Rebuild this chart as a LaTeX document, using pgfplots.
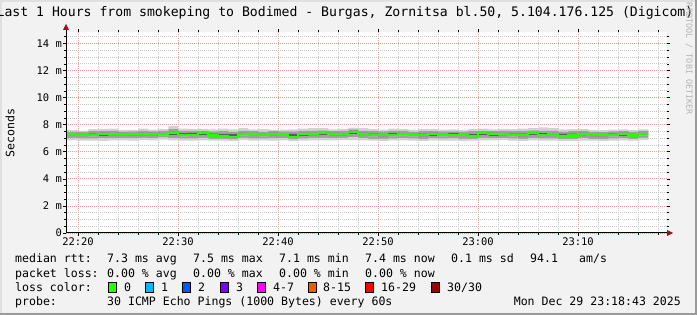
\documentclass[border=0pt]{standalone}
\usepackage{pgfplots}
\pgfplotsset{compat=1.18}
\usepackage{pgfplotstable}
\usepackage{fontspec}
\setmainfont{DejaVu Sans Mono}
\newfontfamily\mono{DejaVu Sans Mono}
\definecolor{bgc}{HTML}{F2F2F2}
\definecolor{shadeA}{HTML}{E0E0E0}
\definecolor{shadeB}{HTML}{9A9A9A}
\definecolor{gridred}{HTML}{E8A0A0}
\definecolor{gridgray}{HTML}{C8C8C8}
\definecolor{arrowred}{HTML}{A01010}
\definecolor{smokeA}{HTML}{D2D2D2}
\definecolor{smokeB}{HTML}{A0A0A0}
\definecolor{smokeC}{HTML}{5C5C5C}
\definecolor{medgreen}{HTML}{26FF00}
\definecolor{lc0}{HTML}{26FF00}
\definecolor{lc1}{HTML}{00B8FF}
\definecolor{lc2}{HTML}{0059FF}
\definecolor{lc3}{HTML}{7E00FF}
\definecolor{lc4}{HTML}{FF00FF}
\definecolor{lc5}{HTML}{FF5500}
\definecolor{lc6}{HTML}{FF0000}
\definecolor{lc7}{HTML}{A10000}
\definecolor{rrdgray}{HTML}{B4B4B4}

% x: minutes after 22:18:48; med: median rtt (ms); a*: spread below, b*: spread above (ms)
\pgfplotstableread{
x med a3 a2 a1 b1 b2 b3
0.07 7.27 0.42 0.28 0.10 0.10 0.22 0.35
1.23 7.27 0.45 0.30 0.12 0.08 0.20 0.30
2.23 7.22 0.40 0.25 0.08 0.14 0.30 0.45
3.23 7.29 0.48 0.30 0.12 0.10 0.25 0.40
4.23 7.34 0.50 0.35 0.14 0.08 0.22 0.38
5.23 7.29 0.45 0.28 0.10 0.10 0.20 0.32
6.23 7.32 0.50 0.32 0.12 0.06 0.18 0.30
7.23 7.29 0.42 0.26 0.10 0.12 0.28 0.42
8.23 7.29 0.45 0.30 0.10 0.10 0.22 0.34
9.23 7.29 0.40 0.25 0.08 0.12 0.25 0.38
10.23 7.39 0.55 0.38 0.15 0.10 0.28 0.50
11.23 7.22 0.40 0.25 0.08 0.15 0.32 0.50
12.23 7.25 0.42 0.28 0.10 0.14 0.30 0.45
13.23 7.39 0.55 0.36 0.16 0.06 0.18 0.30
14.23 7.20 0.38 0.24 0.08 0.16 0.30 0.45
15.23 7.17 0.35 0.22 0.08 0.18 0.35 0.55
16.23 7.10 0.30 0.20 0.06 0.20 0.38 0.55
17.23 7.34 0.48 0.32 0.12 0.08 0.22 0.40
18.23 7.27 0.45 0.30 0.10 0.10 0.25 0.38
19.23 7.22 0.38 0.25 0.08 0.12 0.26 0.45
20.23 7.32 0.50 0.32 0.12 0.08 0.20 0.32
21.23 7.27 0.42 0.28 0.10 0.10 0.24 0.36
22.23 7.10 0.32 0.20 0.06 0.22 0.40 0.55
23.23 7.32 0.50 0.34 0.14 0.08 0.22 0.40
24.23 7.32 0.48 0.30 0.12 0.10 0.25 0.42
25.23 7.39 0.55 0.36 0.14 0.06 0.20 0.35
26.23 7.29 0.45 0.30 0.10 0.10 0.24 0.36
27.23 7.29 0.42 0.26 0.10 0.12 0.26 0.40
28.23 7.49 0.62 0.42 0.18 0.06 0.16 0.30
29.23 7.27 0.42 0.28 0.10 0.12 0.30 0.48
30.23 7.22 0.40 0.26 0.08 0.14 0.30 0.45
31.23 7.22 0.42 0.26 0.10 0.12 0.28 0.42
32.23 7.22 0.38 0.24 0.08 0.15 0.32 0.50
33.23 7.34 0.50 0.34 0.12 0.08 0.20 0.34
34.23 7.22 0.40 0.25 0.08 0.12 0.26 0.40
35.23 7.22 0.42 0.28 0.10 0.14 0.30 0.45
36.23 7.29 0.45 0.30 0.12 0.10 0.24 0.38
37.23 7.22 0.40 0.25 0.08 0.12 0.28 0.42
38.23 7.25 0.42 0.26 0.10 0.12 0.26 0.40
39.23 7.25 0.45 0.30 0.10 0.10 0.24 0.36
40.23 7.17 0.35 0.22 0.08 0.18 0.36 0.52
41.23 7.39 0.55 0.36 0.16 0.06 0.18 0.32
42.23 7.29 0.45 0.30 0.12 0.10 0.24 0.36
43.23 7.29 0.42 0.28 0.10 0.12 0.26 0.40
44.23 7.22 0.40 0.25 0.08 0.14 0.30 0.46
45.23 7.22 0.42 0.26 0.10 0.14 0.32 0.50
46.23 7.39 0.55 0.38 0.14 0.06 0.20 0.35
47.23 7.25 0.42 0.28 0.10 0.12 0.30 0.55
48.23 7.27 0.45 0.30 0.12 0.10 0.28 0.48
49.23 7.15 0.35 0.22 0.06 0.18 0.34 0.50
50.23 7.20 0.40 0.25 0.08 0.16 0.32 0.48
51.23 7.32 0.50 0.32 0.12 0.08 0.22 0.36
52.23 7.22 0.40 0.26 0.10 0.12 0.26 0.40
53.23 7.22 0.42 0.28 0.10 0.12 0.24 0.38
54.23 7.22 0.40 0.25 0.08 0.14 0.28 0.42
55.23 7.29 0.45 0.30 0.12 0.10 0.24 0.36
56.23 7.20 0.38 0.24 0.08 0.14 0.28 0.40
57.23 7.34 0.48 0.32 0.12 0.08 0.20 0.32
58.23 7.34 0.48 0.32 0.12 0.08 0.20 0.32
}\smoke

\newcommand{\lgd}{\mono\fontsize{11.6}{14}\selectfont}
\pgfplotsset{rrdaxis/.style={
  at={(66bp,82bp)}, anchor=south west,
  scale only axis, width=601bp, height=201bp,
  xmin=0, xmax=60.1, ymin=0, ymax=14.85}}

\begin{document}
\begin{tikzpicture}
\fill[bgc] (0bp,0bp) rectangle (697bp,315bp);
\fill[shadeA] (0bp,313bp) rectangle (697bp,315bp);
\fill[shadeA] (0bp,0bp) rectangle (2bp,315bp);
\fill[shadeB] (0bp,0bp) rectangle (697bp,2bp);
\fill[shadeB] (695bp,0bp) rectangle (697bp,315bp);

\begin{axis}[
  rrdaxis,
  axis line style={draw=none},
  axis background/.style={fill=white},
  xtick={1.2,11.2,21.2,31.2,41.2,51.2},
  xticklabels={22:20,22:30,22:40,22:50,23:00,23:10},
  minor xtick={3.2,5.2,7.2,9.2,13.2,15.2,17.2,19.2,23.2,25.2,27.2,29.2,33.2,35.2,37.2,39.2,43.2,45.2,47.2,49.2,53.2,55.2,57.2,59.2},
  ytick={0,2,4,6,8,10,12,14},
  yticklabels={0,2 m,4 m,6 m,8 m,10 m,12 m,14 m},
  minor ytick={0.5,1,1.5,2.5,3,3.5,4.5,5,5.5,6.5,7,7.5,8.5,9,9.5,10.5,11,11.5,12.5,13,13.5,14.5},
  grid=both,
  major grid style={draw=gridred, dash pattern=on 1bp off 1bp, line width=0.8bp},
  minor grid style={draw=gridgray, dash pattern=on 1bp off 1bp, line width=0.8bp},
  tick align=outside,
  major tick length=3bp, minor tick length=2bp,
  tick style={black, line width=0.6bp},
  /pgf/number format/assume math mode=true,
  ticklabel style={font=\mono\fontsize{10.5}{12}\selectfont},
  yticklabel style={inner sep=0pt, xshift=-1bp},
  xticklabel style={inner sep=0pt, yshift=-2bp},
  stack plots=y,
]
\addplot[const plot, draw=none, forget plot] table[x=x, y expr=\thisrow{med}-\thisrow{a3}] {\smoke};
\addplot[const plot, draw=none, fill=smokeA] table[x=x, y expr=\thisrow{a3}-\thisrow{a2}] {\smoke} \closedcycle;
\addplot[const plot, draw=none, fill=smokeB] table[x=x, y expr=\thisrow{a2}-\thisrow{a1}] {\smoke} \closedcycle;
\addplot[const plot, draw=none, fill=smokeC] table[x=x, y expr=\thisrow{a1}+\thisrow{b1}] {\smoke} \closedcycle;
\addplot[const plot, draw=none, fill=smokeB] table[x=x, y expr=\thisrow{b2}-\thisrow{b1}] {\smoke} \closedcycle;
\addplot[const plot, draw=none, fill=smokeA] table[x=x, y expr=\thisrow{b3}-\thisrow{b2}] {\smoke} \closedcycle;
\end{axis}

\begin{axis}[rrdaxis, hide axis]
\addplot[const plot, medgreen, line width=2.2bp] table[x=x, y=med] {\smoke};
\end{axis}

% axis lines with arrows
\draw[black, line width=1bp] (66bp,82bp) -- (668bp,82bp);
\draw[black, line width=1bp] (66bp,82bp) -- (66bp,286bp);
\fill[arrowred] (667bp,79bp) -- (673bp,82bp) -- (667bp,85bp) -- cycle;
\fill[arrowred] (63bp,285bp) -- (66bp,291bp) -- (69bp,285bp) -- cycle;

% title
\node[font=\mono\fontsize{13.2}{15}\selectfont, anchor=base] at (345bp,298bp) {Last 1 Hours from smokeping to Bodimed - Burgas, Zornitsa bl.50, 5.104.176.125 (Digicom)};
% y label
\node[font=\lgd, rotate=90] at (10bp,182bp) {Seconds};
% rrdtool credit
\node[font=\mono\fontsize{8.5}{10}\selectfont, rotate=-90, text=rrdgray] at (689bp,256bp) {RRDTOOL / TOBI OETIKER};

% legend rows
\begin{scope}[every node/.style={font=\lgd, anchor=base west, inner sep=0pt}]
\node at (15bp,52bp) {median rtt:};
\node at (107bp,52bp) {7.3 ms avg};
\node at (193bp,52bp) {7.5 ms max};
\node at (279bp,52bp) {7.1 ms min};
\node at (365bp,52bp) {7.4 ms now};
\node at (451bp,52bp) {0.1 ms sd};
\node at (530bp,52bp) {94.1};
\node at (579bp,52bp) {am/s};
\node at (15bp,38bp) {packet loss:};
\node at (107bp,38bp) {0.00 \% avg};
\node at (193bp,38bp) {0.00 \% max};
\node at (279bp,38bp) {0.00 \% min};
\node at (365bp,38bp) {0.00 \% now};
\node at (15bp,24bp) {loss color:};
\node at (124bp,24bp) {0};
\node at (161bp,24bp) {1};
\node at (198bp,24bp) {2};
\node at (236bp,24bp) {3};
\node at (273bp,24bp) {4-7};
\node at (323bp,24bp) {8-15};
\node at (381bp,24bp) {16-29};
\node at (447bp,24bp) {30/30};
\node at (15bp,10bp) {probe:};
\node at (107bp,10bp) {30 ICMP Echo Pings (1000 Bytes) every 60s};
\node[anchor=base east] at (681bp,10bp) {Mon Dec 29 23:18:43 2025};
\end{scope}
\begin{scope}[line width=0.7bp]
\filldraw[fill=lc0, draw=black] (108bp,23bp) rectangle (116bp,33bp);
\filldraw[fill=lc1, draw=black] (145bp,23bp) rectangle (153bp,33bp);
\filldraw[fill=lc2, draw=black] (182bp,23bp) rectangle (190bp,33bp);
\filldraw[fill=lc3, draw=black] (220bp,23bp) rectangle (228bp,33bp);
\filldraw[fill=lc4, draw=black] (257bp,23bp) rectangle (265bp,33bp);
\filldraw[fill=lc5, draw=black] (308bp,23bp) rectangle (316bp,33bp);
\filldraw[fill=lc6, draw=black] (365bp,23bp) rectangle (373bp,33bp);
\filldraw[fill=lc7, draw=black] (431bp,23bp) rectangle (439bp,33bp);
\end{scope}
\pgfresetboundingbox
\path[use as bounding box] (0bp,0bp) rectangle (697bp,315bp);
\end{tikzpicture}
\end{document}
